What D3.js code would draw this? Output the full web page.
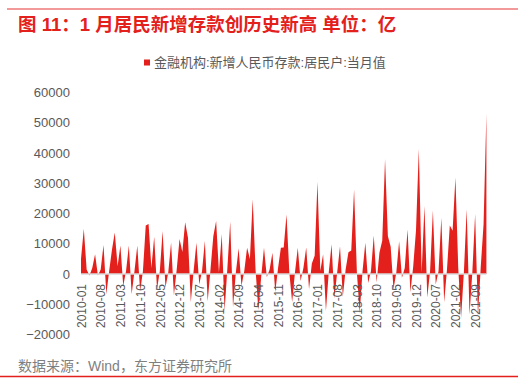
<!DOCTYPE html>
<html lang="zh">
<head>
<meta charset="UTF-8">
<title>1月居民新增存款</title>
<script src="https://d3js.org/d3.v7.min.js"></script>
<style>
  body { margin: 0; background: #fff; }
  text { font-family: "Liberation Sans", Arial, "Noto Sans CJK SC", sans-serif; }
  .cjk { font-family: "Liberation Sans", "Noto Sans CJK SC", sans-serif; }
</style>
</head>
<body>
<svg id="chart" width="522" height="378"></svg>
<script>
// 金融机构:新增人民币存款:居民户:当月值 (亿元), 2010-01 .. 2022-01
const startMonth = new Date(2010, 0, 1);
const endMonth = new Date(2022, 1, 1);
const values = [
  5000, 15000, 1500, -500, 2000, 6500, -500, 1500, 9600, -6700, 1000, 8000,
  13700, 2600, 9400, -4000, 1000, 9400, -6700, 1000, 9400, -5800, 1000, 16000,
  16500, 2000, 12300, -5000, 1000, 14200, -4500, 500, 10400, -7000, 1500, 11600,
  7300, 17100, 12000, -9300, 1000, 10300, -3500, 1000, 10900, -9000, 1500, 12500,
  17500, 500, 13200, -12200, 2000, 17300, -11000, 500, 8500, -4000, 1000, 8700,
  5000, 24700, 1500, -12000, -1000, 8700, -1000, 1500, 7000, -6000, 2000, 8700,
  8800, 19700, 500, -9300, 500, 8700, -2300, 2000, 8800, -5000, 3500, 6000,
  30500, 1000, 6500, -12200, 500, 9800, -8000, 500, 9200, -7500, 1500, 7200,
  7800, 27900, 500, -13000, 1000, 10300, -3000, 1000, 12700, -2800, 7000, 11000,
  38000, 12600, 9000, -5000, 500, 10800, -1200, 2000, 14700, -6000, 2500, 14500,
  41300, 500, 22500, -7800, 1000, 21000, -3500, 1000, 18600, -9300, 1500, 16000,
  14300, 31900, 2000, -14500, 500, 21400, -13500, 500, 19800, -14000, 2500, 16500,
  53000
];
const xTickLabels = ["2010-01", "2010-08", "2011-03", "2011-10", "2012-05", "2012-12",
  "2013-07", "2014-02", "2014-09", "2015-04", "2015-11", "2016-06", "2017-01",
  "2017-08", "2018-03", "2018-10", "2019-05", "2019-12", "2020-07", "2021-02", "2021-09"];
const yTicks = [-20000, -10000, 0, 10000, 20000, 30000, 40000, 50000, 60000];

const fmt = d3.timeFormat("%Y-%m");
const months = d3.timeMonths(startMonth, endMonth).map(fmt);
const data = months.map((m, i) => ({month: m, value: values[i]}));

const svg = d3.select("#chart");
const red = "#e3201b";

const x = d3.scalePoint().domain(months).range([81, 486.4]);
const y = d3.scaleLinear().domain([-20000, 60000]).range([334.5, 92.5]);

// top rule
svg.append("line")
  .attr("x1", 7).attr("x2", 518).attr("y1", 9).attr("y2", 9)
  .attr("stroke", "#f29a9a").attr("stroke-width", 2);

svg.append("text")
  .attr("class", "cjk")
  .attr("x", 18).attr("y", 31)
  .attr("fill", red)
  .attr("font-size", 18.5).attr("font-weight", "bold")
  .text("图 11：1 月居民新增存款创历史新高 单位：亿");

// legend
svg.append("rect")
  .attr("x", 144).attr("y", 59.5).attr("width", 6).attr("height", 6)
  .attr("fill", red);
svg.append("text")
  .attr("class", "cjk")
  .attr("x", 154).attr("y", 67)
  .attr("fill", "#595959").attr("font-size", 13)
  .text("金融机构:新增人民币存款:居民户:当月值");

// area
const area = d3.area()
  .x(d => x(d.month))
  .y0(y(0))
  .y1(d => y(d.value));

svg.append("path")
  .datum(data)
  .attr("fill", red)
  .attr("d", area);

// zero line
svg.append("line")
  .attr("x1", x.range()[0]).attr("x2", x.range()[1])
  .attr("y1", y(0)).attr("y2", y(0))
  .attr("stroke", "#d9d9d9").attr("stroke-width", 1.5);

// y axis
const yAxis = svg.append("g")
  .attr("transform", "translate(70,0)")
  .call(d3.axisLeft(y).tickValues(yTicks).tickSize(0).tickPadding(0).tickFormat(d3.format("d")));
yAxis.select(".domain").remove();
yAxis.selectAll("text")
  .attr("fill", "#595959").attr("font-size", 13);

// x axis
const xAxis = svg.append("g")
  .attr("transform", `translate(0,${y(0)})`)
  .call(d3.axisBottom(x).tickValues(xTickLabels).tickSize(0));
xAxis.select(".domain").remove();
xAxis.selectAll("text")
  .attr("fill", "#595959").attr("font-size", 12)
  .attr("text-anchor", "end")
  .attr("transform", "rotate(-90)")
  .attr("x", -10).attr("y", 0).attr("dy", "0.35em");

// source
svg.append("text")
  .attr("class", "cjk")
  .attr("x", 18).attr("y", 371)
  .attr("fill", "#7f7f7f").attr("font-size", 14)
  .text("数据来源：Wind，东方证券研究所");

svg.append("line")
  .attr("x1", 0).attr("x2", 518).attr("y1", 376.5).attr("y2", 376.5)
  .attr("stroke", red).attr("stroke-width", 1.5);
</script>
</body>
</html>
